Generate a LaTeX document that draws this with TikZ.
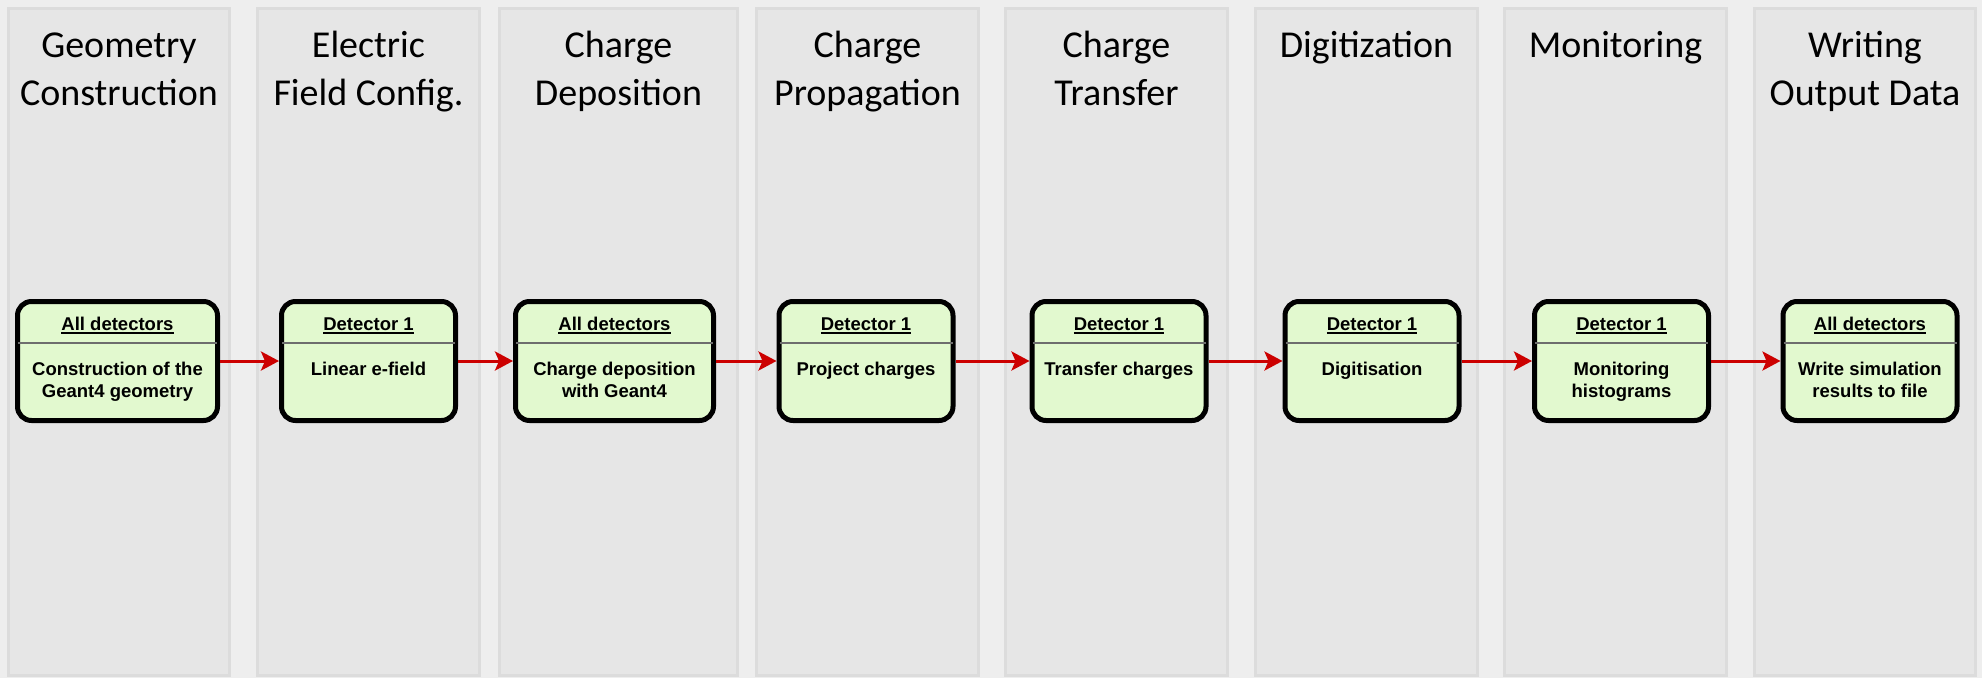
\documentclass[tikz,border=0pt]{standalone}
\usepackage{fontspec}
\setmainfont{Liberation Sans}
\newfontfamily\lanetitlefont{Carlito}
\usetikzlibrary{arrows.meta}
\definecolor{bgc}{HTML}{EEEEEE}
\definecolor{lanefill}{HTML}{E6E6E6}
\definecolor{lanedraw}{HTML}{DCDCDC}
\definecolor{boxfill}{HTML}{E2F9CF}
\definecolor{sepc}{HTML}{6E6E6E}
\definecolor{arrc}{HTML}{CC0000}
\newcommand{\stageul}[1]{\setbox0\hbox{#1}\rlap{\rule[-4pt]{\wd0}{2pt}}\box0}
\tikzset{
  lane/.style={fill=lanefill, draw=lanedraw, line width=3pt},
  lanetitle/.style={anchor=base, font=\lanetitlefont\fontsize{38}{46}\selectfont, inner sep=0},
  stagebox/.style={draw=black, fill=boxfill, line width=5pt, rounded corners=14pt, minimum height=119pt, minimum width=174pt, inner sep=0},
  boxtext/.style={anchor=base, font=\bfseries\fontsize{18.5}{22}\selectfont, inner sep=0},
  sepline/.style={draw=sepc, line width=2pt, shorten <=3pt, shorten >=3pt},
  flow/.style={draw=arrc, line width=3pt, -{Stealth[length=18pt,width=19pt,inset=4pt]}},
}
\begin{document}
\begin{tikzpicture}[x=1pt,y=-1pt]
\fill[bgc] (0,0) rectangle (1982,678);
\useasboundingbox (0,0) rectangle (1982,678);

% lanes
\draw[lane] (8.5,8.5) rectangle (229.5,675.5);
\draw[lane] (257.5,8.5) rectangle (479.5,675.5);
\draw[lane] (499.5,8.5) rectangle (737.5,675.5);
\draw[lane] (756.5,8.5) rectangle (978.5,675.5);
\draw[lane] (1005.5,8.5) rectangle (1227.5,675.5);
\draw[lane] (1255.5,8.5) rectangle (1477.5,675.5);
\draw[lane] (1504.5,8.5) rectangle (1726.5,675.5);
\draw[lane] (1754.5,8.5) rectangle (1975.5,675.5);

% lane titles
\node[lanetitle] (t1a) at (119,57) {Geometry};
\node[lanetitle] (t1b) at (119,105) {Construction};
\node[lanetitle] (t2a) at (368.5,57) {Electric};
\node[lanetitle] (t2b) at (368.5,105) {Field Config.};
\node[lanetitle] (t3a) at (618.5,57) {Charge};
\node[lanetitle] (t3b) at (618.5,105) {Deposition};
\node[lanetitle] (t4a) at (867.5,57) {Charge};
\node[lanetitle] (t4b) at (867.5,105) {Propagation};
\node[lanetitle] (t5a) at (1116.5,57) {Charge};
\node[lanetitle] (t5b) at (1116.5,105) {Transfer};
\node[lanetitle] (t6a) at (1366.5,57) {Digitization};
\node[lanetitle] (t7a) at (1615.5,57) {Monitoring};
\node[lanetitle] (t8a) at (1865,57) {Writing};
\node[lanetitle] (t8b) at (1865,105) {Output Data};

% stage boxes
\node[stagebox, minimum width=200pt] (b1) at (117.5,361) {};
\node[stagebox] (b2) at (368.5,361) {};
\node[stagebox, minimum width=198pt] (b3) at (614.5,361) {};
\node[stagebox] (b4) at (866,361) {};
\node[stagebox] (b5) at (1119,361) {};
\node[stagebox] (b6) at (1372,361) {};
\node[stagebox] (b7) at (1621.5,361) {};
\node[stagebox] (b8) at (1870,361) {};

% separators
\foreach \b in {b1,b2,b3,b4,b5,b6,b7,b8}{
  \draw[sepline] (\b.west |- 0,343) -- (\b.east |- 0,343);
}

% box texts
\node[boxtext] (h1) at (117.5,330) {\stageul{All detectors}};
\node[boxtext] (l1a) at (117.5,375) {Construction of the};
\node[boxtext] (l1b) at (117.5,397) {Geant4 geometry};
\node[boxtext] (h2) at (368.5,330) {\stageul{Detector 1}};
\node[boxtext] (l2a) at (368.5,375) {Linear e-field};
\node[boxtext] (h3) at (614.5,330) {\stageul{All detectors}};
\node[boxtext] (l3a) at (614.5,375) {Charge deposition};
\node[boxtext] (l3b) at (614.5,397) {with Geant4};
\node[boxtext] (h4) at (866,330) {\stageul{Detector 1}};
\node[boxtext] (l4a) at (866,375) {Project charges};
\node[boxtext] (h5) at (1119,330) {\stageul{Detector 1}};
\node[boxtext] (l5a) at (1119,375) {Transfer charges};
\node[boxtext] (h6) at (1372,330) {\stageul{Detector 1}};
\node[boxtext] (l6a) at (1372,375) {Digitisation};
\node[boxtext] (h7) at (1621.5,330) {\stageul{Detector 1}};
\node[boxtext] (l7a) at (1621.5,375) {Monitoring};
\node[boxtext] (l7b) at (1621.5,397) {histograms};
\node[boxtext] (h8) at (1870,330) {\stageul{All detectors}};
\node[boxtext] (l8a) at (1870,375) {Write simulation};
\node[boxtext] (l8b) at (1870,397) {results to file};

% connectors
\draw[flow] (b1) -- (b2);
\draw[flow] (b2) -- (b3);
\draw[flow] (b3) -- (b4);
\draw[flow] (b4) -- (b5);
\draw[flow] (b5) -- (b6);
\draw[flow] (b6) -- (b7);
\draw[flow] (b7) -- (b8);
\end{tikzpicture}
\end{document}
